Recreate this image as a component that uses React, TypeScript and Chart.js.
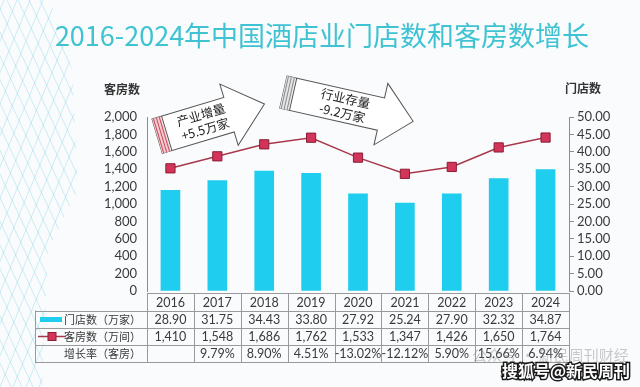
import React, { useEffect, useRef } from "react";
import { Chart, registerables } from "chart.js";

Chart.register(...registerables);

const years = ["2016", "2017", "2018", "2019", "2020", "2021", "2022", "2023", "2024"];
const storeCounts = [28.9, 31.75, 34.43, 33.8, 27.92, 25.24, 27.9, 32.32, 34.87];
const roomCounts = [1410, 1548, 1686, 1762, 1533, 1347, 1426, 1650, 1764];
const roomGrowth = ["", "9.79%", "8.90%", "4.51%", "-13.02%", "-12.12%", "5.90%", "15.66%", "6.94%"];
const rowHeaders = ["门店数（万家）", "客房数（万间）", "增长率（客房）"];
const titleText = "2016-2024年中国酒店业门店数和客房数增长";
const leftAxisTitle = "客房数";
const rightAxisTitle = "门店数";
const arrowUpText = ["产业增量", "+5.5万家"];
const arrowDownText = ["行业存量", "-9.2万家"];

const BAR_COLOR = "#1fcdee";
const LINE_COLOR = "#a8384c";
const POINT_FILL = "#d3355a";
const POINT_BORDER = "#8a1c34";
const TEXT_COLOR = "#3a3a3a";
const GRID_COLOR = "#9a9a9a";
const NUM_FONT = '"Lato", "Noto Sans CJK SC", sans-serif';
const CJK_FONT = '"Noto Sans CJK SC", sans-serif';

function fmtThousands(v: number) {
  return Number(v).toLocaleString("en-US");
}

function drawArrow(
  ctx: CanvasRenderingContext2D,
  ox: number,
  oy: number,
  angleDeg: number,
  bodyLen: number,
  bodyH: number,
  headExt: number,
  tipLen: number,
  stripeFill: string,
  stripeLine: string,
  lines: string[],
  textU: number,
  textN: number[]
) {
  ctx.save();
  ctx.translate(ox, oy);
  ctx.rotate((angleDeg * Math.PI) / 180);
  ctx.beginPath();
  ctx.moveTo(0, 0);
  ctx.lineTo(bodyLen, 0);
  ctx.lineTo(bodyLen, -headExt);
  ctx.lineTo(tipLen, bodyH / 2);
  ctx.lineTo(bodyLen, bodyH + headExt);
  ctx.lineTo(bodyLen, bodyH);
  ctx.lineTo(0, bodyH);
  ctx.closePath();
  ctx.fillStyle = "#ffffff";
  ctx.fill();
  ctx.lineWidth = 1;
  ctx.strokeStyle = "#555555";
  ctx.stroke();
  ctx.fillStyle = stripeFill;
  ctx.fillRect(0, 0, 9, bodyH);
  ctx.strokeStyle = stripeLine;
  ctx.lineWidth = 1;
  for (const u of [1.5, 4.5, 7.5]) {
    ctx.beginPath();
    ctx.moveTo(u, 0);
    ctx.lineTo(u, bodyH);
    ctx.stroke();
  }
  ctx.strokeStyle = "#555555";
  ctx.beginPath();
  ctx.moveTo(10, 0);
  ctx.lineTo(10, bodyH);
  ctx.stroke();
  ctx.fillStyle = "#222222";
  ctx.font = "12.5px " + CJK_FONT;
  ctx.textAlign = "center";
  ctx.textBaseline = "middle";
  lines.forEach((t, i) => ctx.fillText(t, textU, textN[i]));
  ctx.restore();
}

const decorPlugin = {
  id: "decor",
  beforeDraw(chart: any) {
    const ctx: CanvasRenderingContext2D = chart.ctx;
    ctx.save();
    ctx.fillStyle = "#fafbfc";
    ctx.fillRect(0, 0, chart.width, chart.height);
    ctx.beginPath();
    ctx.moveTo(0, 0);
    ctx.lineTo(50, 0);
    ctx.lineTo(72, 70);
    ctx.lineTo(78, 190);
    ctx.lineTo(48, 250);
    ctx.lineTo(42, 387);
    ctx.lineTo(0, 387);
    ctx.closePath();
    ctx.clip();
    ctx.strokeStyle = "rgba(110, 205, 228, 0.33)";
    ctx.lineWidth = 1;
    for (let i = -400; i < 200; i += 11) {
      ctx.beginPath();
      ctx.moveTo(i, 0);
      ctx.lineTo(i + 180, 387);
      ctx.stroke();
    }
    for (let i = -100; i < 500; i += 13) {
      ctx.beginPath();
      ctx.moveTo(i, 0);
      ctx.lineTo(i - 160, 387);
      ctx.stroke();
    }
    ctx.restore();
  },
  afterDraw(chart: any) {
    const ctx: CanvasRenderingContext2D = chart.ctx;
    const ca = chart.chartArea;
    const xs = chart.scales.x;
    ctx.save();

    ctx.fillStyle = "#3fc3d2";
    ctx.font = "27px " + CJK_FONT;
    ctx.textAlign = "center";
    ctx.textBaseline = "middle";
    ctx.fillText(titleText, 322, 36);

    ctx.fillStyle = "#333333";
    ctx.font = "bold 12px " + CJK_FONT;
    ctx.fillText(leftAxisTitle, 122, 89);
    ctx.fillText(rightAxisTitle, 583, 88);

    drawArrow(ctx, 152, 119, -16.7, 75, 36, 14, 112, "#f4cdd2", "#c9485a", arrowUpText, 48, [10, 25]);
    drawArrow(ctx, 287, 76, 12.7, 100, 33, 15, 133, "#e6e6e6", "#8a8a8a", arrowDownText, 62, [9, 24]);

    const n = years.length;
    const colW = (ca.right - ca.left) / n;
    const rowTops = [293, 310.5, 327.5, 344.5, 362];
    const tableLeft = 35;
    ctx.strokeStyle = GRID_COLOR;
    ctx.lineWidth = 1;
    const hline = (y: number, x1: number, x2: number) => {
      ctx.beginPath();
      ctx.moveTo(x1, Math.round(y) + 0.5);
      ctx.lineTo(x2, Math.round(y) + 0.5);
      ctx.stroke();
    };
    const vline = (x: number, y1: number, y2: number) => {
      ctx.beginPath();
      ctx.moveTo(Math.round(x) + 0.5, y1);
      ctx.lineTo(Math.round(x) + 0.5, y2);
      ctx.stroke();
    };
    hline(rowTops[0], ca.left, ca.right);
    for (let r = 1; r < rowTops.length; r++) hline(rowTops[r], tableLeft, ca.right);
    vline(tableLeft, rowTops[1], rowTops[4] + 0.5);
    for (let i = 0; i <= n; i++) vline(ca.left + i * colW, rowTops[0], rowTops[4] + 0.5);

    ctx.fillStyle = TEXT_COLOR;
    ctx.font = "12.5px " + NUM_FONT;
    ctx.textAlign = "center";
    ctx.textBaseline = "middle";
    const mid = (r: number) => (rowTops[r] + rowTops[r + 1]) / 2 + 1;
    for (let i = 0; i < n; i++) {
      const cx = xs.getPixelForValue(i);
      ctx.fillText(years[i], cx, mid(0));
      ctx.fillText(storeCounts[i].toFixed(2), cx, mid(1));
      ctx.fillText(fmtThousands(roomCounts[i]), cx, mid(2));
      ctx.fillText(roomGrowth[i], cx, mid(3));
    }

    ctx.font = "11px " + CJK_FONT;
    ctx.textAlign = "right";
    rowHeaders.forEach((h, r) => ctx.fillText(h, 141, mid(r + 1)));
    ctx.fillStyle = BAR_COLOR;
    ctx.fillRect(40, mid(1) - 3, 22, 5);
    ctx.strokeStyle = LINE_COLOR;
    ctx.lineWidth = 1.5;
    ctx.beginPath();
    ctx.moveTo(38, mid(2) - 0.5);
    ctx.lineTo(66, mid(2) - 0.5);
    ctx.stroke();
    ctx.fillStyle = POINT_FILL;
    ctx.strokeStyle = POINT_BORDER;
    ctx.lineWidth = 1;
    ctx.fillRect(48, mid(2) - 4.5, 8, 8);
    ctx.strokeRect(48, mid(2) - 4.5, 8, 8);

    ctx.fillStyle = "rgba(140,140,140,0.45)";
    ctx.font = "15px " + CJK_FONT;
    ctx.textAlign = "left";
    ctx.fillText("公众号 · 新民周刊财经", 472, 355);
    ctx.font = "bold 16px " + CJK_FONT;
    ctx.lineWidth = 3;
    ctx.strokeStyle = "#1a1a1a";
    ctx.strokeText("搜狐号@新民周刊", 502, 371);
    ctx.fillStyle = "#ffffff";
    ctx.fillText("搜狐号@新民周刊", 502, 371);

    ctx.restore();
  },
};

export default function App() {
  const ref = useRef<HTMLCanvasElement | null>(null);
  useEffect(() => {
    if (!ref.current) return;
    const chart = new Chart(ref.current, {
      type: "bar",
      data: {
        labels: years,
        datasets: [
          {
            type: "line",
            label: "客房数（万间）",
            data: roomCounts,
            yAxisID: "y",
            order: 1,
            borderColor: LINE_COLOR,
            borderWidth: 1.5,
            pointStyle: "rect",
            pointRadius: 6.5,
            pointBackgroundColor: POINT_FILL,
            pointBorderColor: POINT_BORDER,
            pointBorderWidth: 1,
            tension: 0,
          } as any,
          {
            type: "bar",
            label: "门店数（万家）",
            data: storeCounts,
            yAxisID: "y1",
            order: 2,
            backgroundColor: BAR_COLOR,
            barThickness: 19,
          } as any,
        ],
      },
      options: {
        responsive: false,
        animation: false,
        layout: { padding: { top: 117, bottom: 96, left: 0, right: 0 } },
        plugins: { legend: { display: false }, tooltip: { enabled: false } },
        scales: {
          x: { display: false, offset: true },
          y: {
            position: "left",
            min: 0,
            max: 2000,
            ticks: {
              stepSize: 200,
              autoSkip: false,
              padding: 10,
              color: TEXT_COLOR,
              font: { family: NUM_FONT, size: 13 },
              callback: (v: any) => fmtThousands(Number(v)),
            },
            grid: { display: false, drawTicks: false },
            border: { display: true, color: "#8c8c8c" },
            afterFit: (s: any) => {
              s.width = 147;
            },
          },
          y1: {
            position: "right",
            min: 0,
            max: 50,
            ticks: {
              stepSize: 5,
              autoSkip: false,
              padding: 3,
              color: TEXT_COLOR,
              font: { family: NUM_FONT, size: 13 },
              callback: (v: any) => Number(v).toFixed(2),
            },
            grid: { drawOnChartArea: false, drawTicks: true, tickLength: 5, color: "#8c8c8c" },
            border: { display: true, color: "#8c8c8c" },
            afterFit: (s: any) => {
              s.width = 71;
            },
          },
        } as any,
      },
      plugins: [decorPlugin],
    });
    return () => chart.destroy();
  }, []);
  return (
    <div style={{ position: "absolute", left: 0, top: 0, width: 640, height: 387 }}>
      <canvas ref={ref} width={640} height={387} style={{ display: "block" }} />
    </div>
  );
}
